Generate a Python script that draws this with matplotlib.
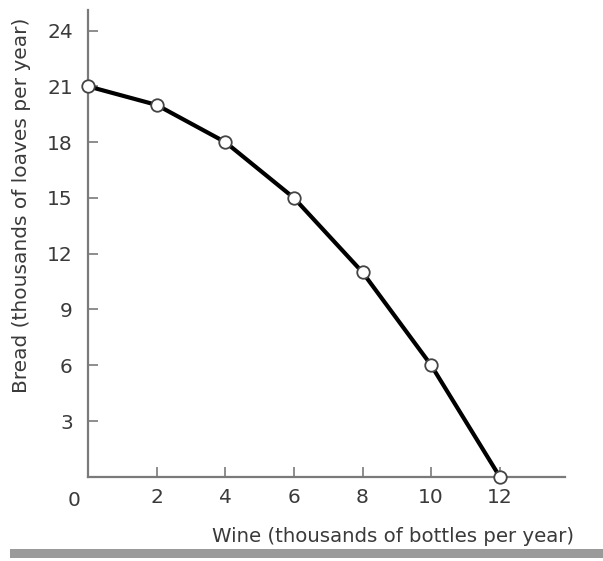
import matplotlib
matplotlib.use("Agg")
import matplotlib.pyplot as plt
from matplotlib.patches import Rectangle

# production possibilities: wine vs bread
wine = [0, 2, 4, 6, 8, 10, 12]
bread = [21, 20, 18, 15, 11, 6, 0]
x_ticks = [2, 4, 6, 8, 10, 12]
y_ticks = [3, 6, 9, 12, 15, 18, 21, 24]

txt = "#3a3a3a"
axc = "#7a7a7a"

fig = plt.figure(figsize=(6.03, 5.61), dpi=100)
ax = fig.add_axes([0.146, 0.150, 0.791, 0.832])

ax.plot(wine, bread, color="black", lw=3, solid_capstyle="round",
        solid_joinstyle="round", zorder=2)
ax.plot(wine, bread, ls="none", marker="o", ms=9, mfc="white",
        mec="#444444", mew=1.3, zorder=3, clip_on=False)

ax.set_xlim(0, 13.9)
ax.set_ylim(0, 25.1)
for s in ["top", "right"]:
    ax.spines[s].set_visible(False)
for s in ["left", "bottom"]:
    ax.spines[s].set_color(axc)
    ax.spines[s].set_linewidth(1.6)

ax.set_xticks(x_ticks)
ax.set_yticks(y_ticks)
ax.tick_params(direction="in", length=7, width=1.2, color=axc,
               labelsize=14.5, labelcolor=txt)
ax.tick_params(axis="x", pad=8)
ax.tick_params(axis="y", pad=11)
ax.text(-0.4, -0.75, "0", ha="center", va="top", fontsize=14.5, color=txt,
        transform=ax.transData, clip_on=False)

fig.text(574 / 603, 1 - 537 / 561, "Wine (thousands of bottles per year)",
         ha="right", va="center", fontsize=14.2, color=txt)
fig.text(22 / 603, 1 - 205 / 561, "Bread (thousands of loaves per year)",
         ha="center", va="center", rotation=90, fontsize=14.5, color=txt)

fig.patches.append(Rectangle((10 / 603, 3 / 561), 1, 9 / 561, transform=fig.transFigure,
                             facecolor="#9a9a9a", edgecolor="none"))

fig.savefig("out.png", dpi=100)
